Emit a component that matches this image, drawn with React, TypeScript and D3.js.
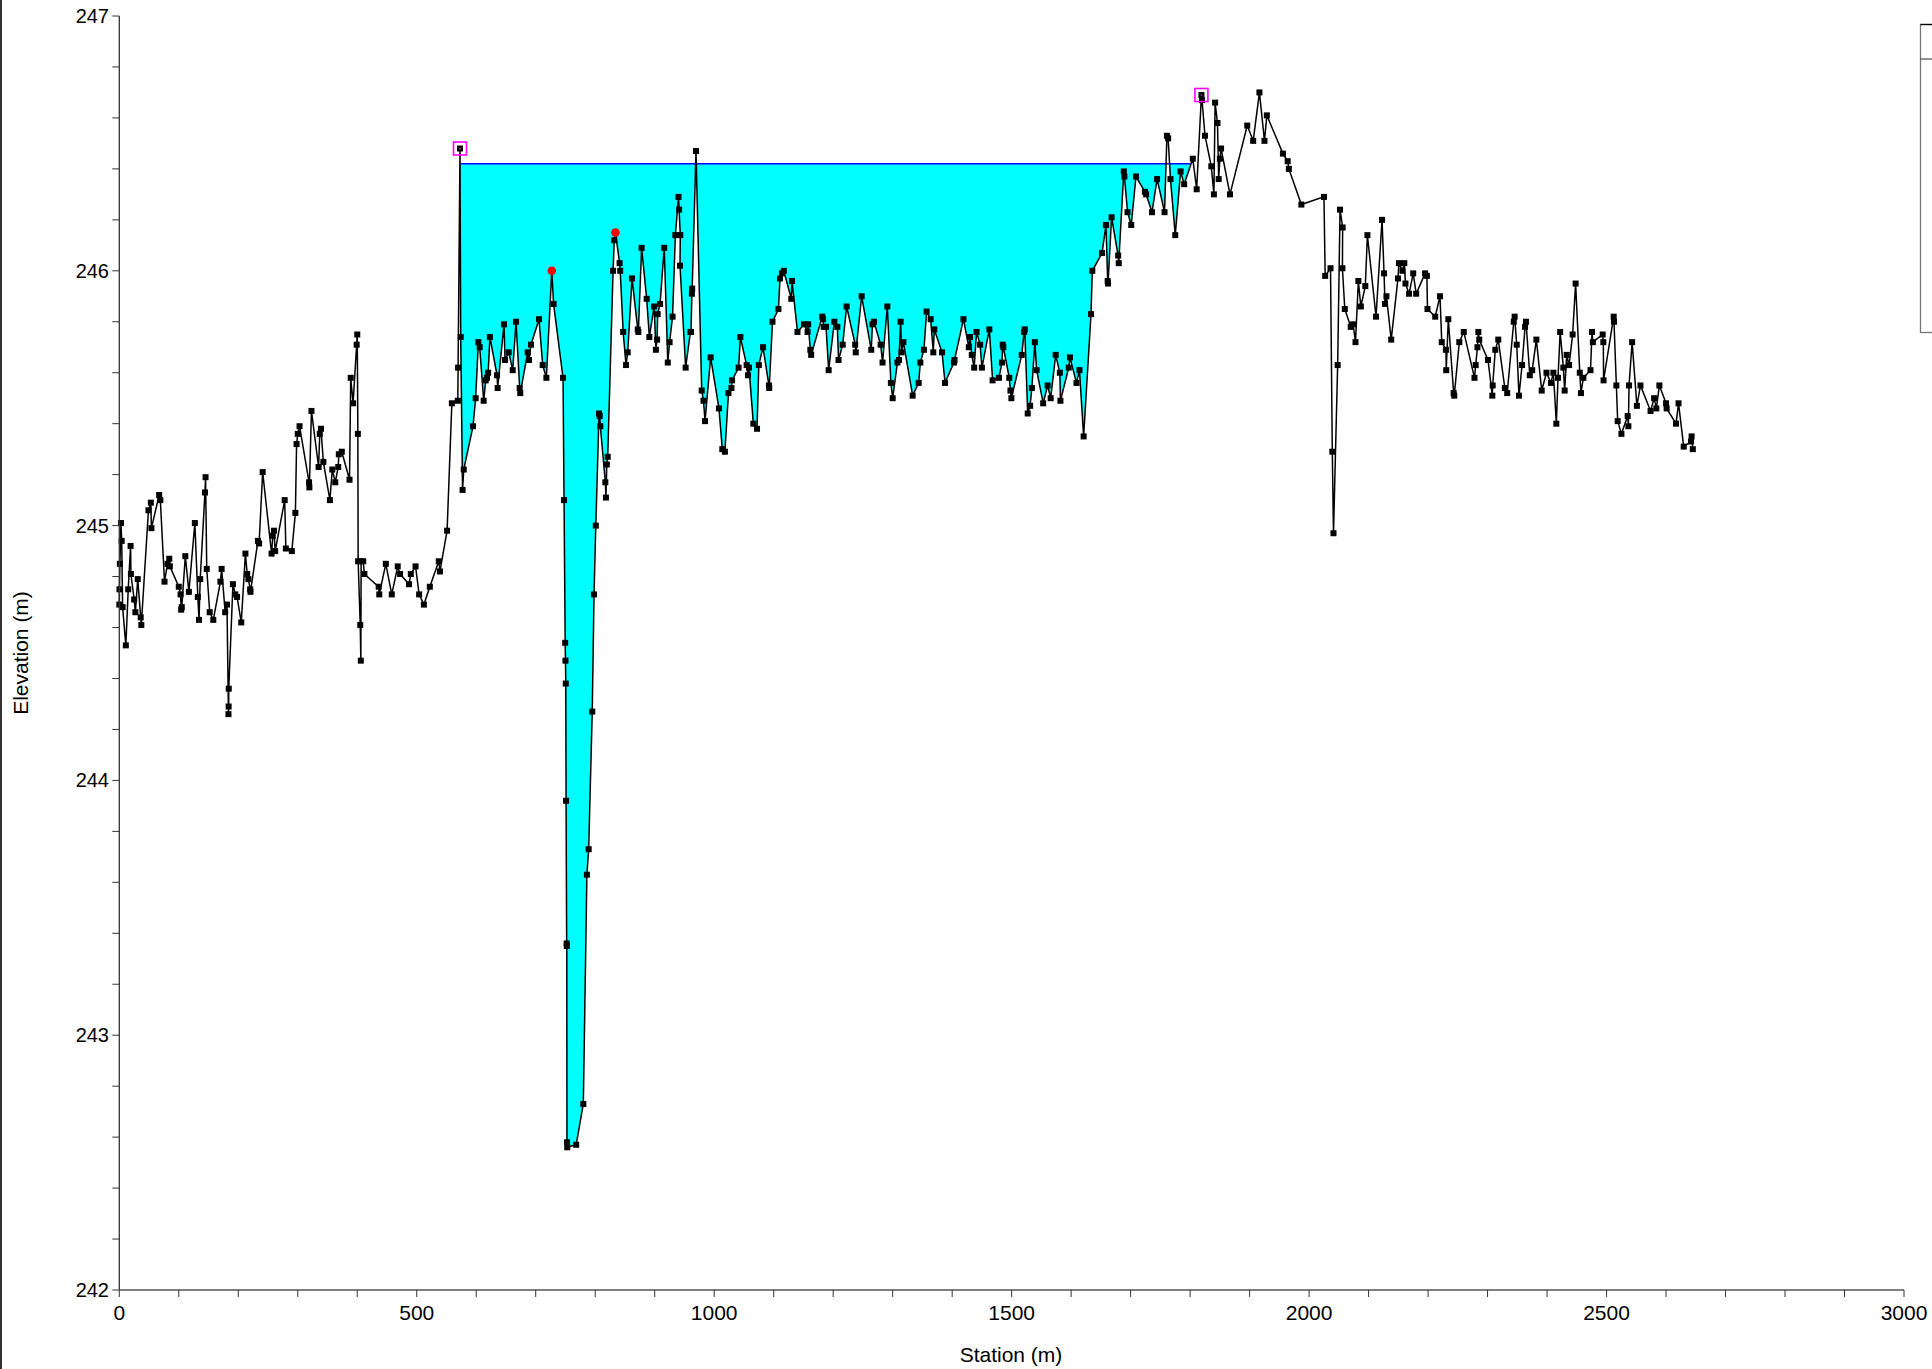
import React from "react";
import * as d3 from "d3";

const stations: number[] = [
  0, 0.3, 1, 2.8, 4, 5.6, 11, 15, 19, 19.5, 25, 27, 31, 36, 37, 49, 53, 54, 67, 69,
  76, 81, 84, 85, 100, 103, 104, 105, 111, 117, 127, 132, 134, 136, 144, 145, 147, 152, 158, 170,
  172, 178, 181, 183.5, 183.8, 184, 191, 195, 198, 205, 212, 215, 217, 220, 220.5, 233, 235, 241, 256, 258,
  260, 262, 278, 280, 290, 296, 298, 300, 303, 319, 319.5, 323, 335, 337, 339, 343, 354, 358, 363, 368,
  369, 374, 387, 389, 393, 399, 400, 401, 401.5, 405, 406, 406.5, 410, 412, 436, 437, 448, 458, 468, 472,
  487, 490, 498, 504, 512, 522, 537, 539, 551, 559, 569, 569.5, 572.7, 573.9, 577, 579, 594.6, 599, 603.6, 605.8,
  612.5, 616, 618, 620, 623, 635, 636, 646.7, 648.4, 654.5, 661.3, 666.9, 673, 674, 686.5, 688.7, 692, 705.5, 711.7, 717.9,
  727, 730, 745.9, 747.6, 749.5, 750, 750.5, 751, 752, 752.2, 752.5, 753, 768, 780, 786, 789, 795, 798, 801, 806.4,
  807.5, 808.6, 817, 818, 819.5, 821, 830, 832, 834, 841, 842, 847, 851.8, 854.6, 861.9, 871.5, 872.5, 878, 886.5, 891,
  899, 902, 904, 905, 909, 916, 922, 925, 930, 934.7, 940, 941, 943, 942.5, 952, 960, 961, 962.5, 963, 969.4,
  979, 982, 984.6, 994, 1008, 1013.6, 1018, 1024, 1029, 1030, 1041, 1044, 1054.5, 1056.8, 1058.5, 1065.8, 1072, 1075, 1082, 1092,
  1092.5, 1098, 1108, 1110.6, 1114, 1117, 1129.6, 1130.8, 1140, 1151, 1157, 1158, 1161.6, 1163, 1181.7, 1183, 1184, 1188, 1192.4, 1202,
  1207, 1209, 1216, 1222.6, 1237, 1238, 1247.9, 1264, 1266, 1268.6, 1279.8, 1283, 1291, 1297, 1300, 1308, 1310.6, 1313.4, 1315, 1318,
  1333.6, 1343.7, 1346.5, 1352.6, 1357, 1363.8, 1368.3, 1370, 1383, 1388, 1403, 1404, 1419, 1428, 1430, 1433, 1437, 1441, 1447, 1450,
  1462.5, 1468, 1478.7, 1483.7, 1485, 1486, 1496, 1498, 1499.5, 1517, 1521, 1522, 1527, 1531, 1534, 1539, 1542, 1553, 1560.5, 1565.6,
  1574, 1581, 1582, 1596, 1598, 1609, 1614, 1621, 1633.4, 1635.6, 1652, 1658.6, 1661.4, 1662, 1668, 1679, 1680, 1688.5, 1689.5, 1694.8,
  1701, 1709, 1724, 1726, 1736, 1744.5, 1757, 1761, 1763, 1767, 1775, 1784, 1790, 1804.5, 1811, 1819, 1820, 1825, 1835.6, 1840,
  1842, 1846, 1848, 1850, 1852, 1867, 1896, 1906, 1916.5, 1925, 1929, 1956, 1964, 1966, 1987, 2025, 2027, 2036, 2039, 2041,
  2048, 2052, 2056.4, 2056, 2060, 2070, 2074, 2078, 2082.8, 2087, 2094.5, 2098, 2112.5, 2122.6, 2126, 2127.6, 2130, 2138, 2149.4, 2151,
  2157, 2160, 2162, 2168, 2175, 2180, 2195, 2198, 2199, 2212, 2220, 2223, 2230, 2230.5, 2234, 2243, 2244, 2252.5, 2260, 2278,
  2280, 2283, 2284.5, 2286, 2300.7, 2308, 2308.6, 2313, 2318, 2329, 2333, 2344, 2345.5, 2349, 2352.8, 2358, 2363, 2364.6, 2371, 2375,
  2382, 2391, 2399, 2406.6, 2410.6, 2415.6, 2418.4, 2422, 2427.4, 2429.6, 2433, 2437, 2443, 2448, 2455, 2457, 2461, 2473, 2475.6, 2477,
  2493.5, 2494.6, 2495, 2512, 2512.5, 2516.5, 2518.7, 2525, 2535.5, 2536.7, 2537.8, 2543, 2551, 2557, 2574, 2580, 2583.7, 2588.8, 2600, 2601,
  2616.8, 2621, 2629.7, 2642, 2643, 2645,
];

const elevations: number[] = [
  244.69, 244.75, 244.85, 245.01, 244.94, 244.68, 244.53, 244.75, 244.92, 244.81, 244.71, 244.66, 244.79, 244.64, 244.61, 245.06, 245.09, 244.99, 245.12, 245.10,
  244.78, 244.85, 244.87, 244.84, 244.76, 244.73, 244.67, 244.68, 244.88, 244.74, 245.01, 244.72, 244.63, 244.79, 245.13, 245.19, 244.83, 244.66, 244.63, 244.78,
  244.83, 244.66, 244.69, 244.26, 244.29, 244.36, 244.77, 244.73, 244.72, 244.62, 244.89, 244.81, 244.79, 244.75, 244.74, 244.94, 244.93, 245.21, 244.89, 244.96,
  244.98, 244.90, 245.10, 244.91, 244.90, 245.05, 245.32, 245.36, 245.39, 245.17, 245.15, 245.45, 245.23, 245.36, 245.38, 245.25, 245.10, 245.22, 245.17, 245.23,
  245.28, 245.29, 245.18, 245.58, 245.48, 245.71, 245.75, 245.36, 244.86, 244.61, 244.47, 244.86, 244.86, 244.81, 244.76, 244.73, 244.85, 244.73, 244.84, 244.81,
  244.77, 244.81, 244.84, 244.73, 244.69, 244.76, 244.86, 244.82, 244.98, 245.48, 245.49, 245.62, 246.48, 245.74, 245.14, 245.22, 245.39, 245.50, 245.72, 245.70,
  245.49, 245.57, 245.58, 245.60, 245.74, 245.59, 245.54, 245.79, 245.65, 245.68, 245.61, 245.80, 245.54, 245.52, 245.68, 245.65, 245.71, 245.81, 245.63, 245.58,
  246.00, 245.87, 245.58, 245.10, 244.54, 244.47, 244.38, 243.92, 243.36, 243.35, 242.58, 242.56, 242.57, 242.73, 243.63, 243.73, 244.27, 244.73, 245.00, 245.44,
  245.43, 245.39, 245.17, 245.11, 245.24, 245.27, 246.00, 246.12, 246.15, 246.03, 246.00, 245.76, 245.63, 245.68, 245.97, 245.77, 245.76, 246.09, 245.89, 245.74,
  245.86, 245.69, 245.73, 245.83, 245.87, 246.09, 245.64, 245.72, 245.82, 246.14, 246.29, 246.24, 246.14, 246.02, 245.62, 245.76, 245.76, 245.91, 245.93, 246.47,
  245.53, 245.49, 245.41, 245.66, 245.46, 245.30, 245.29, 245.52, 245.54, 245.57, 245.62, 245.74, 245.63, 245.59, 245.62, 245.40, 245.38, 245.63, 245.70, 245.55,
  245.54, 245.80, 245.85, 245.97, 245.99, 246.00, 245.89, 245.96, 245.76, 245.79, 245.76, 245.79, 245.69, 245.67, 245.82, 245.81, 245.78, 245.78, 245.61, 245.80,
  245.78, 245.65, 245.71, 245.86, 245.71, 245.68, 245.90, 245.69, 245.79, 245.80, 245.71, 245.64, 245.86, 245.56, 245.50, 245.64, 245.65, 245.80, 245.68, 245.72,
  245.51, 245.56, 245.64, 245.69, 245.84, 245.81, 245.68, 245.77, 245.68, 245.56, 245.64, 245.65, 245.81, 245.70, 245.74, 245.67, 245.62, 245.76, 245.71, 245.62,
  245.77, 245.57, 245.58, 245.64, 245.71, 245.70, 245.58, 245.53, 245.50, 245.67, 245.76, 245.77, 245.44, 245.47, 245.54, 245.72, 245.61, 245.48, 245.55, 245.50,
  245.67, 245.60, 245.49, 245.62, 245.66, 245.56, 245.61, 245.35, 245.83, 246.00, 246.07, 246.18, 245.96, 245.95, 246.21, 246.06, 246.03, 246.39, 246.37, 246.23,
  246.18, 246.37, 246.31, 246.30, 246.23, 246.36, 246.23, 246.53, 246.52, 246.36, 246.14, 246.39, 246.34, 246.44, 246.32, 246.69, 246.67, 246.53, 246.41, 246.30,
  246.66, 246.58, 246.36, 246.44, 246.48, 246.30, 246.57, 246.51, 246.70, 246.51, 246.61, 246.46, 246.43, 246.40, 246.26, 246.29, 245.98, 246.01, 245.29, 244.97,
  245.63, 246.24, 246.17, 246.01, 245.85, 245.78, 245.79, 245.72, 245.96, 245.86, 245.94, 246.14, 245.82, 246.20, 245.99, 245.87, 245.90, 245.73, 245.97, 246.03,
  246.00, 246.03, 245.95, 245.91, 245.99, 245.91, 245.99, 245.98, 245.85, 245.82, 245.90, 245.72, 245.69, 245.61, 245.81, 245.52, 245.51, 245.72, 245.76, 245.58,
  245.63, 245.70, 245.76, 245.73, 245.65, 245.51, 245.55, 245.69, 245.73, 245.54, 245.52, 245.80, 245.82, 245.71, 245.51, 245.63, 245.78, 245.80, 245.59, 245.61,
  245.73, 245.53, 245.60, 245.56, 245.60, 245.40, 245.58, 245.76, 245.62, 245.53, 245.67, 245.63, 245.75, 245.95, 245.60, 245.52, 245.58, 245.61, 245.76, 245.72,
  245.75, 245.72, 245.57, 245.82, 245.80, 245.55, 245.41, 245.36, 245.43, 245.39, 245.55, 245.72, 245.47, 245.55, 245.45, 245.50, 245.46, 245.55, 245.48, 245.46,
  245.40, 245.48, 245.31, 245.33, 245.35, 245.30,
];

const waterSurface = 246.42;
const waterExtent: number[] = [572.7, 1801];
const bankStations: number[] = [572.7, 1819];
const bankElevations: number[] = [246.48, 246.69];
const highStations: number[] = [727, 834];
const highElevations: number[] = [246.0, 246.15];
const xMajorTicks: number[] = [0, 500, 1000, 1500, 2000, 2500, 3000];
const yMajorTicks: number[] = [242, 243, 244, 245, 246, 247];

const W = 1932;
const H = 1369;
const FONT = "'Liberation Sans', Arial, Helvetica, sans-serif";

export default function App() {
  const x = d3.scaleLinear().domain([0, 3000]).range([119.3, 1904]);
  const y = d3.scaleLinear().domain([242, 247]).range([1290, 16]);

  const pts: [number, number][] = stations.map((s, i) => [x(s), y(elevations[i])]);
  const line = d3.line<[number, number]>().x((d) => d[0]).y((d) => d[1]);
  const groundPath = line(pts) || "";
  const clipPath =
    groundPath + `L${pts[pts.length - 1][0]},0L${pts[0][0]},0Z`;

  const xMinor = d3.range(0, 3001, 100);
  const yMinor = d3.range(0, 26).map((i) => 242 + i * 0.2);

  const ms = 6;

  return (
    <div style={{ position: "absolute", left: 0, top: 0, width: W, height: H, background: "#fff" }}>
      <svg width={W} height={H} style={{ display: "block" }} fontFamily={FONT}>
        <defs>
          <clipPath id="aboveGround">
            <path d={clipPath} />
          </clipPath>
        </defs>
        <rect x={0} y={0} width={W} height={H} fill="#fff" />
        {/* water fill */}
        <rect
          x={x(waterExtent[0])}
          y={y(waterSurface)}
          width={x(waterExtent[1]) - x(waterExtent[0])}
          height={y(242) - y(waterSurface)}
          fill="#00FFFF"
          clipPath="url(#aboveGround)"
        />
        <line
          x1={x(waterExtent[0])}
          x2={x(waterExtent[1])}
          y1={y(waterSurface)}
          y2={y(waterSurface)}
          stroke="#0000FF"
          strokeWidth={1.5}
        />
        {/* ground */}
        <path d={groundPath} fill="none" stroke="#000" strokeWidth={1.5} />
        {pts.map((p, i) => (
          <rect key={i} x={p[0] - ms / 2} y={p[1] - ms / 2} width={ms} height={ms} fill="#000" />
        ))}
        {highStations.map((s, i) => (
          <circle key={"h" + i} cx={x(s)} cy={y(highElevations[i])} r={4.3} fill="#FF0000" />
        ))}
        {bankStations.map((s, i) => (
          <g key={"b" + i}>
            <rect
              x={x(s) - 6.5}
              y={y(bankElevations[i]) - 6.5}
              width={13}
              height={13}
              fill="none"
              stroke="#FF00FF"
              strokeWidth={1.6}
            />
            <rect x={x(s) - 0.7} y={y(bankElevations[i]) - 0.7} width={1.4} height={1.4} fill="#FF00FF" />
          </g>
        ))}
        {/* axes */}
        <line x1={119.3} x2={119.3} y1={16} y2={1290} stroke="#333" strokeWidth={1.3} />
        <line x1={119.3} x2={1904} y1={1290} y2={1290} stroke="#555" strokeWidth={1.6} />
        {xMinor.map((t) => (
          <line key={"xm" + t} x1={x(t)} x2={x(t)} y1={1290} y2={1297} stroke="#333" strokeWidth={1} />
        ))}
        {yMinor.map((t, i) => (
          <line key={"ym" + i} x1={112.3} x2={119.3} y1={y(t)} y2={y(t)} stroke="#333" strokeWidth={1} />
        ))}
        {xMajorTicks.map((t) => (
          <text key={"xl" + t} x={x(t)} y={1320} textAnchor="middle" fontSize={21} fill="#000">
            {t}
          </text>
        ))}
        {yMajorTicks.map((t) => (
          <text key={"yl" + t} x={109} y={y(t) + 7} textAnchor="end" fontSize={20} fill="#000">
            {t}
          </text>
        ))}
        <text x={1011} y={1362} textAnchor="middle" fontSize={21} fill="#000">
          Station (m)
        </text>
        <text
          transform={`translate(28,653) rotate(-90)`}
          textAnchor="middle"
          fontSize={21}
          fill="#000"
        >
          Elevation (m)
        </text>
        {/* left border */}
        <line x1={1} x2={1} y1={0} y2={H} stroke="#333" strokeWidth={2} />
        {/* legend box (clipped at edge) */}
        <rect x={1920.5} y={24.5} width={20} height={308} fill="#fff" stroke="#777" strokeWidth={1.3} />
        <line x1={1920.5} x2={1932} y1={24.5} y2={24.5} stroke="#000" strokeWidth={1.3} />
        <line x1={1920.5} x2={1932} y1={59} y2={59} stroke="#555" strokeWidth={1.3} />
      </svg>
    </div>
  );
}
